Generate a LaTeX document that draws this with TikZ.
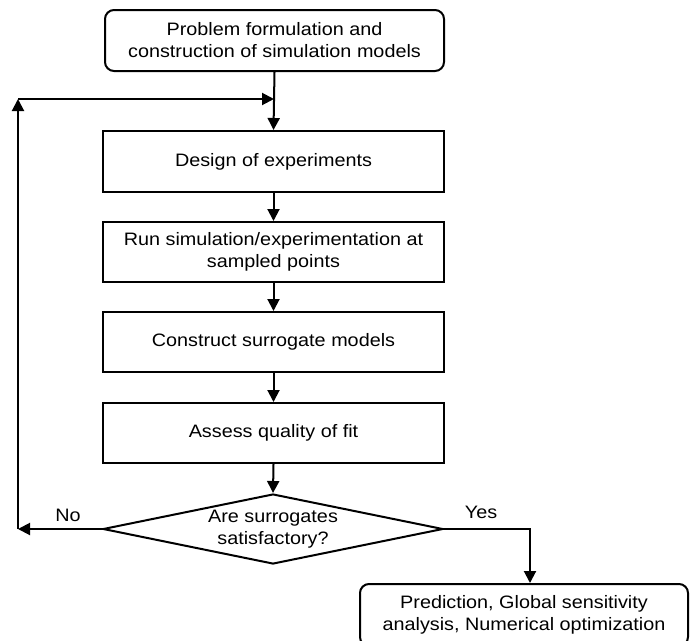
\documentclass[tikz,border=0pt]{standalone}
\usepackage{fontspec}
\setmainfont{Liberation Sans}[FakeStretch=1.1]
\usetikzlibrary{arrows.meta,shapes.geometric}
\begin{document}
\begin{tikzpicture}[x=1pt,y=-1pt,
  every node/.style={font=\fontsize{18}{22}\selectfont},
  procbox/.style={draw,line width=2pt,minimum width=341pt,minimum height=61pt,inner sep=0pt,align=center},
  termbox/.style={draw,line width=2pt,rounded corners=9pt,inner sep=0pt,align=center},
  decbox/.style={draw,line width=2pt,diamond,shape aspect=4.86,minimum width=340pt,minimum height=70pt,inner sep=0pt,align=center},
  arr/.style={line width=2pt,-{Triangle[length=12pt,width=12pt]}}]
\useasboundingbox (0,0) rectangle (690,640);
\clip (0,0) rectangle (690,640);
\fill[white] (0,0) rectangle (690,640);
\node[termbox,minimum width=339pt,minimum height=61pt] (top) at (274.5,40.5) {Problem formulation and\\construction of simulation models};
\node[procbox] (doe) at (273.5,161.5) {Design of experiments};
\node[procbox,minimum height=60pt] (run) at (273.5,252) {Run simulation/experimentation at\\sampled points};
\node[procbox,minimum height=60pt] (cons) at (273.5,342) {Construct surrogate models};
\node[procbox,minimum height=60pt] (assess) at (273.5,433) {Assess quality of fit};
\node[decbox] (dia) at (273,529) {Are surrogates\\satisfactory?};
\node[termbox,minimum width=328pt,minimum height=62pt] (pred) at (524,615) {Prediction, Global sensitivity\\analysis, Numerical optimization};
\coordinate (noend) at (18,529);
\coordinate (fbcorner) at (18,99);
\coordinate (fbjoin) at (274,99);
\coordinate (yescol) at (530,0);
\draw[arr] (top.south) -- (doe.north);
\draw[arr] (doe.south) -- (run.north);
\draw[arr] (run.south) -- (cons.north);
\draw[arr] (cons.south) -- (assess.north);
\draw[arr] (assess.south) -- (dia.north);
\draw[arr] (dia.west) -- (noend);
\draw[arr] (noend) -- (fbcorner);
\draw[arr] (fbcorner) -- (fbjoin);
\draw[arr] (dia.east) -| (pred.north -| yescol);
\node (nolab) at (68,515) {No};
\node (yeslab) at (481,512) {Yes};
\end{tikzpicture}
\end{document}
